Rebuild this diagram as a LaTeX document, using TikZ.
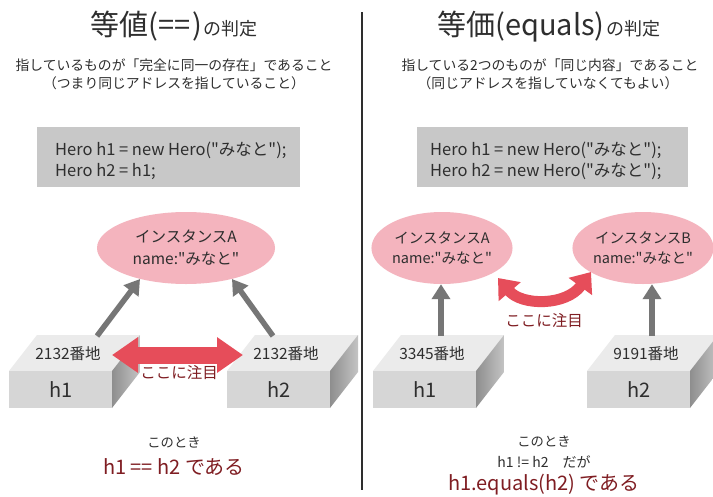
\documentclass[tikz,border=0pt]{standalone}
\usepackage{fontspec}
\setmainfont{Noto Sans CJK JP}[Ligatures=TeXOff]
\usetikzlibrary{arrows.meta,shapes.geometric}
\definecolor{txt}{HTML}{2E2E2E}
\definecolor{dred}{HTML}{7F1D22}
\definecolor{pinkfill}{HTML}{F4B4BE}
\definecolor{codegray}{HTML}{C8C8C8}
\definecolor{redarrow}{HTML}{E64D5A}
\definecolor{grayarrow}{HTML}{767676}
\definecolor{boxtop}{HTML}{EBEBEB}
\definecolor{boxfront}{HTML}{D6D6D6}
\definecolor{boxsidedark}{HTML}{8E8E8E}
\definecolor{boxsidelight}{HTML}{C4C4C4}
\tikzset{
  lbl/.style={inner sep=0pt, text=txt},
  titlefont/.style={lbl},
  subfont/.style={lbl, font=\fontsize{13.8}{18}\selectfont},
  codebox/.style={fill=codegray, draw=none, inner sep=0pt},
  codetext/.style={lbl, align=left, anchor=west, font=\fontsize{16.5}{21}\selectfont},
  instL/.style={ellipse, fill=pinkfill, draw=none, inner sep=0pt, align=center, text=txt,
     minimum width=178pt, minimum height=72pt, font=\fontsize{15.5}{22}\selectfont},
  instR/.style={ellipse, fill=pinkfill, draw=none, inner sep=0pt, align=center, text=txt,
     minimum width=140pt, minimum height=72pt, font=\fontsize{14.5}{19.5}\selectfont},
  frontface/.style={fill=boxfront, draw=none, inner sep=0pt, anchor=north west,
     minimum width=103pt, minimum height=37pt, text=txt, font=\fontsize{20}{22}\selectfont},
  addr/.style={lbl, font=\fontsize{15.5}{16}\selectfont},
  grayarr/.style={draw=grayarrow, line width=5.5pt, -{Triangle[length=15pt,width=18pt]}},
  redarr/.style={draw=redarrow, line width=17pt, {Triangle[length=26pt,width=34pt]}-{Triangle[length=26pt,width=34pt]}},
  redcurve/.style={draw=redarrow, line width=11pt, {Triangle[length=18pt,width=28pt]}-{Triangle[length=18pt,width=28pt]}},
  attn/.style={inner sep=0pt, text=dred, font=\fontsize{15.5}{18}\selectfont},
  small/.style={lbl, font=\fontsize{13.3}{16}\selectfont},
  result/.style={inner sep=0pt, text=dred, font=\fontsize{20}{24}\selectfont},
}
\newcommand{\membox}[4]{%
  \fill[boxtop] (#1,371) -- ++(103,0) -- ++(28,-36) -- ++(-103,0) -- cycle;
  \shade[left color=boxsidedark, right color=boxsidelight] (#1+103,371) -- ++(28,-36) -- ++(0,37) -- ++(-28,36) -- cycle;
  \node[frontface] (#2) at (#1,371) {#3};
  \node[addr] (#2addr) at (#1+59,354) {#4};
}
\begin{document}
\begin{tikzpicture}[x=1pt,y=-1pt]
\useasboundingbox[fill=white] (0,0) rectangle (713,496);

% divider
\draw[txt, line width=1.2pt] (362,12) -- (362,490);

% ---------- left panel ----------
\node[titlefont, anchor=base] (titleL) at (174,35)
  {\fontsize{29}{30}\selectfont 等値(\kern1pt==\kern1pt)\kern2pt\fontsize{18}{20}\selectfont の判定};
\node[subfont] (subL1) at (174,65) {指しているものが「完全に同一の存在」であること};
\node[subfont] (subL2) at (174,83) {（つまり同じアドレスを指していること）};

\node[codebox, minimum width=263pt, minimum height=60pt] (codeboxL) at (168.5,157) {};
\node[codetext] (codeL) at (55,160.5) {Hero h1 = new Hero("みなと");\\Hero h2 = h1;};

\node[instL] (ellL) at (186,248) {インスタンスA\\name:"みなと"};

\membox{9}{hL1}{h1}{2132番地}
\membox{227}{hL2}{h2}{2132番地}

\coordinate (tL1) at (97,336);
\coordinate (tL2) at (273,336);
\draw[grayarr] (tL1) -- (ellL.214);
\draw[grayarr] (tL2) -- (ellL.326);

\coordinate (rL1) at (112,355);
\coordinate (rL2) at (243,355);
\draw[redarr] (rL1) -- (rL2);
\node[attn] (attnL) at (179,373) {ここに注目};

\node[small] (nowL) at (174,443) {このとき};
\node[result] (resL) at (174,467) {h1 == h2 である};

% ---------- right panel ----------
\node[titlefont, anchor=base] (titleR) at (549,35)
  {\fontsize{29}{30}\selectfont 等価(equals)\kern2pt\fontsize{18}{20}\selectfont の判定};
\node[subfont] (subR1) at (550,65) {指している2つのものが「同じ内容」であること};
\node[subfont] (subR2) at (548,83) {（同じアドレスを指していなくてもよい）};

\node[codebox, minimum width=271pt, minimum height=60pt] (codeboxR) at (552.5,157) {};
\node[codetext] (codeR) at (430,160.5) {Hero h1 = new Hero("みなと");\\Hero h2 = new Hero("みなと");};

\node[instR] (ellA) at (442,248) {インスタンスA\\name:"みなと"};
\node[instR] (ellB) at (643,248) {インスタンスB\\name:"みなと"};

\membox{373}{hR1}{h1}{3345番地}
\membox{587}{hR2}{h2}{9191番地}

\coordinate (tR1) at (441,336);
\coordinate (tR2) at (652,336);
\draw[grayarr] (tR1) -- (ellA.south -| tR1);
\draw[grayarr] (tR2) -- (ellB.south -| tR2);

\coordinate (cA) at (498,278);
\coordinate (cB) at (591,272);
\draw[redcurve] (cA) .. controls (522,306) and (566,306) .. (cB);
\node[attn] (attnR) at (544,321) {ここに注目};

\node[small] (nowR) at (544,442) {このとき};
\node[lbl, font=\fontsize{14}{16}\selectfont] (neqR) at (544,462) {h1 != h2　だが};
\node[result] (resR) at (544,485) {h1.equals(h2) である};
\end{tikzpicture}
\end{document}
